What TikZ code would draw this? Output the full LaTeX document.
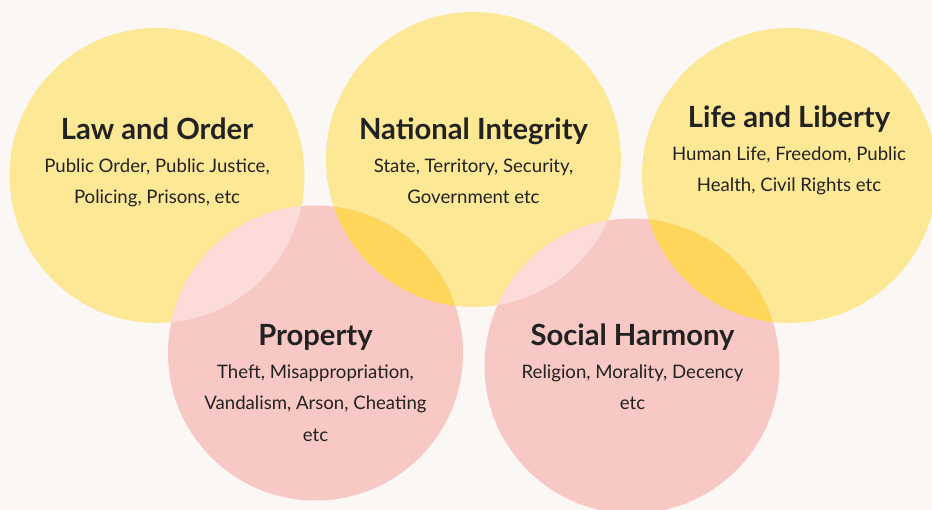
\documentclass[tikz,border=0pt]{standalone}
\usepackage{fontspec}
\setmainfont{Lato}
\definecolor{bg}{HTML}{FBF7F5}
\definecolor{yel}{HTML}{FDE896}
\definecolor{pnk}{HTML}{F8C8C4}
\definecolor{lpnk}{HTML}{FCDCD8}
\definecolor{gold}{HTML}{FDD65A}
\definecolor{ink}{HTML}{222222}
\tikzset{
  ycirc/.style={circle, fill=yel, minimum size=295pt, inner sep=0pt},
  pcirc/.style={circle, fill=pnk, minimum size=295pt, inner sep=0pt},
  ttl/.style={anchor=base, inner sep=0pt, text=ink, font=\fontsize{29.2}{32}\selectfont\bfseries},
  bdy/.style={anchor=base, inner sep=0pt, text=ink, font=\fontsize{18.6}{32}\selectfont},
}
\begin{document}
\begin{tikzpicture}[x=1pt,y=-1pt]
\useasboundingbox (0,0) rectangle (932,510);
\clip (0,0) rectangle (932,510);
\fill[bg] (0,0) rectangle (932,510);
% circles
\node[ycirc] (lo) at (157,175.5) {};
\node[ycirc] (ni) at (473.5,159.5) {};
\node[ycirc] (ll) at (789.5,175.5) {};
\node[pcirc] (pr) at (315.5,353) {};
\node[pcirc] (sh) at (632,366) {};
% overlaps
\begin{scope}
  \clip (lo.center) circle (147.5pt);
  \fill[lpnk] (pr.center) circle (147.5pt);
\end{scope}
\begin{scope}
  \clip (ni.center) circle (147.5pt);
  \fill[gold] (pr.center) circle (147.5pt);
\end{scope}
\begin{scope}
  \clip (ni.center) circle (147.5pt);
  \fill[lpnk] (sh.center) circle (147.5pt);
\end{scope}
\begin{scope}
  \clip (ll.center) circle (147.5pt);
  \fill[gold] (sh.center) circle (147.5pt);
\end{scope}
% texts
\node[ttl] (lot) at (157,140) {Law and Order};
\node[bdy] (lo1) at (157,172.5) {Public Order, Public Justice,};
\node[bdy] (lo2) at (157,204) {Policing, Prisons, etc};

\node[ttl] (nit) at (473.5,140) {National Integrity};
\node[bdy] (ni1) at (473.5,172.5) {State, Territory, Security,};
\node[bdy] (ni2) at (473.5,204) {Government etc};

\node[ttl] (llt) at (789,128) {Life and Liberty};
\node[bdy] (ll1) at (789,160.5) {Human Life, Freedom, Public};
\node[bdy] (ll2) at (789,192) {Health, Civil Rights etc};

\node[ttl] (prt) at (315.5,346) {Property};
\node[bdy] (pr1) at (315.5,378.5) {Theft, Misappropriation,};
\node[bdy] (pr2) at (315.5,410) {Vandalism, Arson, Cheating};
\node[bdy] (pr3) at (315.5,442) {etc};

\node[ttl] (sht) at (632.5,346) {Social Harmony};
\node[bdy] (sh1) at (632.5,378.5) {Religion, Morality, Decency};
\node[bdy] (sh2) at (632.5,410) {etc};
\end{tikzpicture}
\end{document}
